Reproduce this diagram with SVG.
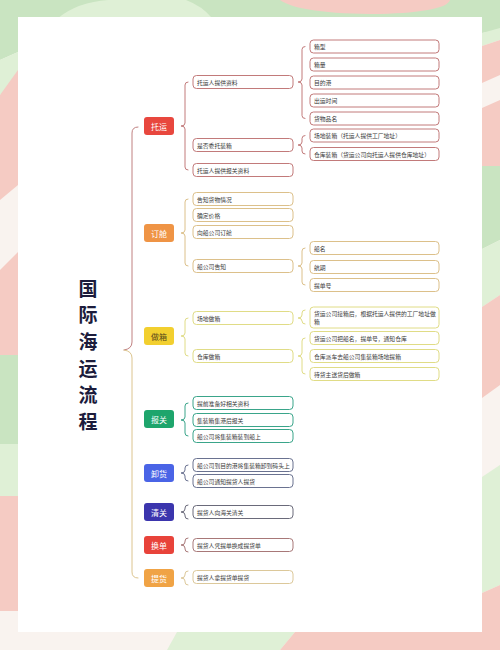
<svg xmlns="http://www.w3.org/2000/svg" width="500" height="650" viewBox="0 0 500 650">
<style>
text{font-family:"Noto Sans CJK SC","Noto Sans",sans-serif;}
.t{font-size:5.8px;fill:#3a3a3a;dominant-baseline:central;}
.n{font-size:8px;fill:#fff;text-anchor:middle;dominant-baseline:central;}
.b{fill:#fff;stroke-width:1;}
.br{fill:none;stroke-width:1;stroke-linecap:round;}
.c1{stroke:#c27a7a;} .c2{stroke:#dcc08a;} .c3{stroke:#e0dc86;} .c4{stroke:#3aa58a;}
.c5{stroke:#6a7290;} .c6{stroke:#6a6a7a;} .c7{stroke:#a87878;} .c8{stroke:#dcc89a;}
</style>
<!-- background -->
<g id="background">
<rect width="500" height="650" fill="#f9f3ef"/>
<rect x="0" y="0" width="500" height="20" fill="#c9e4c1"/>
<path d="M280,0 L450,0 Q446,12 380,14 Q300,14 280,0 Z" fill="#f5cbc3"/>
<path d="M58,18 Q78,2 108,0 L186,0 Q202,6 212,18 Z" fill="#dff0d6"/>
<polygon points="0,0 18,0 18,52 0,60" fill="#c9e4c1"/>
<polygon points="0,60 18,52 18,85 0,95" fill="#dff0d6"/>
<polygon points="0,95 18,70 18,185 0,200" fill="#f5cbc3"/>
<polygon points="0,270 18,252 18,355 0,355" fill="#f5cbc3"/>
<polygon points="0,355 18,355 18,444 0,444" fill="#c9e4c1"/>
<polygon points="0,444 18,444 18,496 0,496" fill="#dff0d6"/>
<polygon points="0,496 18,496 18,611 0,611" fill="#f5cbc3"/>
<polygon points="482,0 500,0 500,30 482,33" fill="#c9e4c1"/>
<polygon points="482,33 500,28 500,40 482,46" fill="#dff0d6"/>
<polygon points="482,46 500,40 500,75 482,83" fill="#f5cbc3"/>
<polygon points="482,108 500,100 500,166 482,166" fill="#f5cbc3"/>
<polygon points="482,166 500,166 500,240 482,249" fill="#c9e4c1"/>
<polygon points="482,249 500,240 500,295 482,307" fill="#dff0d6"/>
<polygon points="482,307 500,295 500,385 482,398" fill="#f5cbc3"/>
<polygon points="482,477 500,465 500,585 482,593" fill="#dff0d6"/>
<polygon points="482,593 500,585 500,650 482,650" fill="#f5cbc3"/>
<polygon points="167,650 177,632 295,632 280,650" fill="#dff0d6"/>
<polygon points="280,650 295,632 500,632 500,650" fill="#f5cbc3"/>
<rect x="18" y="17" width="464" height="615" fill="#ffffff"/>
</g>
<g id="title">
<text x="88" y="287" font-size="19" font-weight="bold" fill="#1c1c3c" text-anchor="middle" dominant-baseline="central">国</text>
<text x="88" y="313" font-size="19" font-weight="bold" fill="#1c1c3c" text-anchor="middle" dominant-baseline="central">际</text>
<text x="88" y="340" font-size="19" font-weight="bold" fill="#1c1c3c" text-anchor="middle" dominant-baseline="central">海</text>
<text x="88" y="367" font-size="19" font-weight="bold" fill="#1c1c3c" text-anchor="middle" dominant-baseline="central">运</text>
<text x="88" y="393" font-size="19" font-weight="bold" fill="#1c1c3c" text-anchor="middle" dominant-baseline="central">流</text>
<text x="88" y="420" font-size="19" font-weight="bold" fill="#1c1c3c" text-anchor="middle" dominant-baseline="central">程</text>
</g>
<!-- connectors -->
<g id="connectors">
<path class="br" stroke="#c08080" stroke-width="1.3" d="M138,127 Q132,127 132,133 L132,342 Q132,349 124,350"/>
<path class="br" stroke="#dcc48e" stroke-width="1.3" d="M124,350 Q132,351 132,358 L132,572 Q132,578 138,578"/>
<path class="br c1" d="M188,82 Q185,82 185,85 L185,123 Q185,126 181,126 Q185,126 185,129 L185,167 Q185,170 188,170"/>
<path class="br c2" d="M188,199 Q185,199 185,202 L185,230 Q185,233 181,233 Q185,233 185,236 L185,263 Q185,266 188,266"/>
<path class="br c3" d="M188,318 Q185,318 185,321 L185,333 Q185,336 181,336 Q185,336 185,339 L185,353 Q185,356 188,356"/>
<path class="br c4" d="M188,403 Q185,403 185,406 L185,417 Q185,420 181,420 Q185,420 185,423 L185,433 Q185,436 188,436"/>
<path class="br c5" d="M188,465 Q185,465 185,468 L185,470 Q185,473 181,473 Q185,473 185,476 L185,478 Q185,481 188,481"/>
<path class="br c6" d="M188,505 Q185,505 185,508 L185,509 Q185,512 181,512 Q185,512 185,515 L185,516 Q185,519 188,519"/>
<path class="br c7" d="M188,538 Q185,538 185,541 L185,542 Q185,545 181,545 Q185,545 185,548 L185,549 Q185,552 188,552"/>
<path class="br c8" d="M188,571 Q185,571 185,574 L185,575 Q185,578 181,578 Q185,578 185,581 L185,582 Q185,585 188,585"/>
<path class="br c1" d="M305,46.5 Q302,46.5 302,49.5 L302,79 Q302,82 298,82 Q302,82 302,85 L302,115.5 Q302,118.5 305,118.5"/>
<path class="br c1" d="M305,135.5 Q302,135.5 302,138.5 L302,142 Q302,145 298,145 Q302,145 302,148 L302,151 Q302,154 305,154"/>
<path class="br c2" d="M305,248 Q302,248 302,251 L302,263 Q302,266 298,266 Q302,266 302,269 L302,282 Q302,285 305,285"/>
<path class="br c3" d="M305,310 Q302,310 302,313 L302,315 Q302,318 298,318 Q302,318 302,321 L302,321 Q302,324 305,324"/>
<path class="br c3" d="M305,338 Q302,338 302,341 L302,353 Q302,356 298,356 Q302,356 302,359 L302,371 Q302,374 305,374"/>
</g>
<!-- level 1 -->
<g id="n-tuoyun"><rect x="144" y="117" width="30" height="18" rx="3" fill="#e8473e"/><text class="n" x="159" y="126">托运</text></g>
<g id="n-dingcang"><rect x="144" y="224" width="30" height="18" rx="3" fill="#ef9445"/><text class="n" x="159" y="233">订舱</text></g>
<g id="n-zuoxiang"><rect x="144" y="327" width="30" height="18" rx="3" fill="#f2cf2f"/><text class="n" x="159" y="336" style="fill:#5a4a1a">做箱</text></g>
<g id="n-baoguan"><rect x="144" y="410" width="30" height="18" rx="3" fill="#1ea56c"/><text class="n" x="159" y="419">报关</text></g>
<g id="n-xiehuo"><rect x="144" y="464" width="30" height="18" rx="3" fill="#4a64e6"/><text class="n" x="159" y="473">卸货</text></g>
<g id="n-qingguan"><rect x="144" y="503" width="30" height="18" rx="3" fill="#3b35ad"/><text class="n" x="159" y="512">清关</text></g>
<g id="n-huandan"><rect x="144" y="536" width="30" height="18" rx="3" fill="#e8433a"/><text class="n" x="159" y="545">换单</text></g>
<g id="n-tihuo"><rect x="144" y="569" width="30" height="18" rx="3" fill="#f0a345"/><text class="n" x="159" y="578">提货</text></g>
<!-- level 2 -->
<g id="n-2-1"><rect class="b c1" x="193" y="75.5" width="100" height="13" rx="3.5"/><text class="t" x="197" y="82">托运人提供资料</text></g>
<g id="n-2-2"><rect class="b c1" x="193" y="138.5" width="100" height="13" rx="3.5"/><text class="t" x="197" y="145">是否委托装箱</text></g>
<g id="n-2-3"><rect class="b c1" x="193" y="163.5" width="100" height="13" rx="3.5"/><text class="t" x="197" y="170">托运人提供报关资料</text></g>
<g id="n-2-4"><rect class="b c2" x="193" y="192.5" width="100" height="13" rx="3.5"/><text class="t" x="197" y="199">告知货物情况</text></g>
<g id="n-2-5"><rect class="b c2" x="193" y="208.5" width="100" height="13" rx="3.5"/><text class="t" x="197" y="215">确定价格</text></g>
<g id="n-2-6"><rect class="b c2" x="193" y="225.5" width="100" height="13" rx="3.5"/><text class="t" x="197" y="232">向船公司订舱</text></g>
<g id="n-2-7"><rect class="b c2" x="193" y="259.5" width="100" height="13" rx="3.5"/><text class="t" x="197" y="266">船公司告知</text></g>
<g id="n-2-8"><rect class="b c3" x="193" y="311.5" width="100" height="13" rx="3.5"/><text class="t" x="197" y="318">场地做箱</text></g>
<g id="n-2-9"><rect class="b c3" x="193" y="349.5" width="100" height="13" rx="3.5"/><text class="t" x="197" y="356">仓库做箱</text></g>
<g id="n-2-10"><rect class="b c4" x="193" y="396.5" width="100" height="13" rx="3.5"/><text class="t" x="197" y="403">提前准备好相关资料</text></g>
<g id="n-2-11"><rect class="b c4" x="193" y="413.5" width="100" height="13" rx="3.5"/><text class="t" x="197" y="420">集装箱集港后报关</text></g>
<g id="n-2-12"><rect class="b c4" x="193" y="429.5" width="100" height="13" rx="3.5"/><text class="t" x="197" y="436">船公司将集装箱装到船上</text></g>
<g id="n-2-13"><rect class="b c5" x="193" y="458.5" width="100" height="13" rx="3.5"/><text class="t" x="197" y="465">船公司到目的港将集装箱卸到码头上</text></g>
<g id="n-2-14"><rect class="b c5" x="193" y="474.5" width="100" height="13" rx="3.5"/><text class="t" x="197" y="481">船公司通知提货人提货</text></g>
<g id="n-2-15"><rect class="b c6" x="193" y="505.5" width="100" height="13" rx="3.5"/><text class="t" x="197" y="512">提货人向海关清关</text></g>
<g id="n-2-16"><rect class="b c7" x="193" y="538.5" width="100" height="13" rx="3.5"/><text class="t" x="197" y="545">提货人凭提单换成提货单</text></g>
<g id="n-2-17"><rect class="b c8" x="193" y="570.5" width="100" height="13" rx="3.5"/><text class="t" x="197" y="577">提货人拿提货单提货</text></g>
<!-- level 3 -->
<g id="n-3-1"><rect class="b c1" x="310" y="40" width="129" height="13" rx="3.5"/><text class="t" x="314" y="46.5">箱型</text></g>
<g id="n-3-2"><rect class="b c1" x="310" y="58" width="129" height="13" rx="3.5"/><text class="t" x="314" y="64.5">箱量</text></g>
<g id="n-3-3"><rect class="b c1" x="310" y="76" width="129" height="13" rx="3.5"/><text class="t" x="314" y="82.5">目的港</text></g>
<g id="n-3-4"><rect class="b c1" x="310" y="94" width="129" height="13" rx="3.5"/><text class="t" x="314" y="100.5">出运时间</text></g>
<g id="n-3-5"><rect class="b c1" x="310" y="112" width="129" height="13" rx="3.5"/><text class="t" x="314" y="118.5">货物品名</text></g>
<g id="n-3-6"><rect class="b c1" x="310" y="129" width="129" height="13" rx="3.5"/><text class="t" x="314" y="135.5">场地装箱（托运人提供工厂地址）</text></g>
<g id="n-3-7"><rect class="b c1" x="310" y="147.5" width="129" height="13" rx="3.5"/><text class="t" x="314" y="154">仓库装箱（货运公司向托运人提供仓库地址）</text></g>
<g id="n-3-8"><rect class="b c2" x="310" y="241.5" width="129" height="13" rx="3.5"/><text class="t" x="314" y="248">船名</text></g>
<g id="n-3-9"><rect class="b c2" x="310" y="260.5" width="129" height="13" rx="3.5"/><text class="t" x="314" y="267">航期</text></g>
<g id="n-3-10"><rect class="b c2" x="310" y="278.5" width="129" height="13" rx="3.5"/><text class="t" x="314" y="285">提单号</text></g>
<g id="n-3-11"><rect class="b c3" x="310" y="307" width="129" height="21" rx="3.5"/><text class="t" x="314" y="313.5">货运公司接箱后，根据托运人提供的工厂地址做</text><text class="t" x="314" y="321.5">箱</text></g>
<g id="n-3-12"><rect class="b c3" x="310" y="331.5" width="129" height="13" rx="3.5"/><text class="t" x="314" y="338">货运公司把船名，提单号，通知仓库</text></g>
<g id="n-3-13"><rect class="b c3" x="310" y="349.5" width="129" height="13" rx="3.5"/><text class="t" x="314" y="356">仓库派车去船公司集装箱场地提箱</text></g>
<g id="n-3-14"><rect class="b c3" x="310" y="367.5" width="129" height="13" rx="3.5"/><text class="t" x="314" y="374">待货主送货后做箱</text></g>
</svg>
